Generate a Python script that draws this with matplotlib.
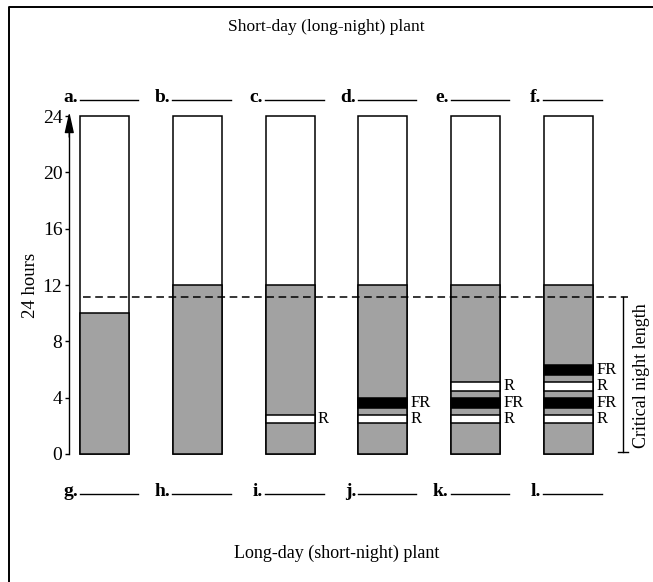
import matplotlib
matplotlib.use("Agg")
import matplotlib.pyplot as plt

# ---------------- data ----------------
top_letters = ["a.", "b.", "c.", "d.", "e.", "f."]
bottom_letters = ["g.", "h.", "i.", "j.", "k.", "l."]
dark_hours = [10, 12, 12, 12, 12, 12]          # length of the night (hours, from 0)
day_total = 24
n_flashes = [0, 0, 1, 2, 3, 4]                  # how many flashes each bar gets
flash_types = ["R", "FR", "R", "FR"]
flash_start = [2.2, 3.3, 4.5, 5.6]
flash_end = [2.8, 4.0, 5.1, 6.3]
critical_night = 11.15
y_ticks = [0, 4, 8, 12, 16, 20, 24]

# ---------------- styles ----------------
SERIF = ["Liberation Serif", "DejaVu Serif"]
plt.rcParams["font.family"] = SERIF
GRAY = "#a2a2a2"
BAR_W = 0.53
LW = 1.1

fig = plt.figure(figsize=(6.53, 5.82), dpi=100)
ax = fig.add_axes([0, 0, 1, 1])
ax.set_xlim(-1.1305, 5.914)
ax.set_ylim(-9.09, 32.24)
for s in ["top", "right", "bottom"]:
    ax.spines[s].set_visible(False)
ax.patch.set_visible(False)

x_axis = -0.383
ax.spines["left"].set_position(("data", x_axis))
ax.spines["left"].set_bounds(0, 23.0)
ax.spines["left"].set_linewidth(1.0)
ax.set_yticks(y_ticks)
ax.set_yticklabels([str(t) for t in y_ticks], fontsize=14)
ax.tick_params(axis="y", direction="out", length=3, width=1.0, pad=2)
ax.set_xticks([])
ax.annotate("", xy=(x_axis, 24.3), xytext=(x_axis, 22.5),
            arrowprops=dict(arrowstyle="-|>,head_length=0.9,head_width=0.2",
                            color="black", lw=1.0,
                            mutation_scale=14, shrinkA=0, shrinkB=0))
ax.text(x_axis - 0.42, 12, "24 hours", rotation=90, ha="center", va="center",
        fontsize=13.5)

# bars
for i in range(len(top_letters)):
    ax.bar(i, day_total, width=BAR_W, bottom=0, color="white",
           edgecolor="black", linewidth=LW, zorder=2)
    ax.bar(i, dark_hours[i], width=BAR_W, bottom=0, color=GRAY,
           edgecolor="black", linewidth=LW, zorder=3)
    for k in range(n_flashes[i]):
        ft = flash_types[k]
        col = "white" if ft == "R" else "black"
        ax.bar(i, flash_end[k] - flash_start[k], width=BAR_W,
               bottom=flash_start[k], color=col, edgecolor="black",
               linewidth=LW, zorder=4)
        ax.text(i + BAR_W / 2 + 0.035, (flash_start[k] + flash_end[k]) / 2,
                ft, ha="left", va="center", fontsize=12)
    # letter labels
    ax.text(i - 0.29, 25.0, top_letters[i], ha="right", va="baseline",
            fontsize=14, fontweight="bold")
    ax.plot([i - 0.27, i + 0.36], [25.15, 25.15], color="black", lw=1.0,
            clip_on=False)
    ax.text(i - 0.29, -2.98, bottom_letters[i], ha="right", va="baseline",
            fontsize=14, fontweight="bold")
    ax.plot([i - 0.27, i + 0.36], [-2.83, -2.83], color="black", lw=1.0,
            clip_on=False)

# critical night length
ax.plot([-0.24, 5.645], [critical_night, critical_night], color="black",
        lw=1.1, linestyle=(0, (5, 3)), zorder=5)
bx = 5.59
ax.plot([bx, bx], [0.15, critical_night], color="black", lw=1.0)
ax.plot([bx - 0.054, bx + 0.054], [0.15, 0.15], color="black", lw=1.0)
ax.text(5.79, critical_night / 2, "Critical night length", rotation=90,
        ha="center", va="center", fontsize=13)

# titles
ax.text(2.386, 30.32, "Short-day (long-night) plant", ha="center",
        va="center", fontsize=12.5)
ax.text(2.505, -7.03, "Long-day (short-night) plant", ha="center",
        va="center", fontsize=13)

# page frame
ax.plot([0.0145, 0.0145, 1.0], [0.0, 0.988, 0.988], transform=ax.transAxes,
        color="black", lw=1.4, clip_on=False)

fig.savefig("out.png", dpi=100)
